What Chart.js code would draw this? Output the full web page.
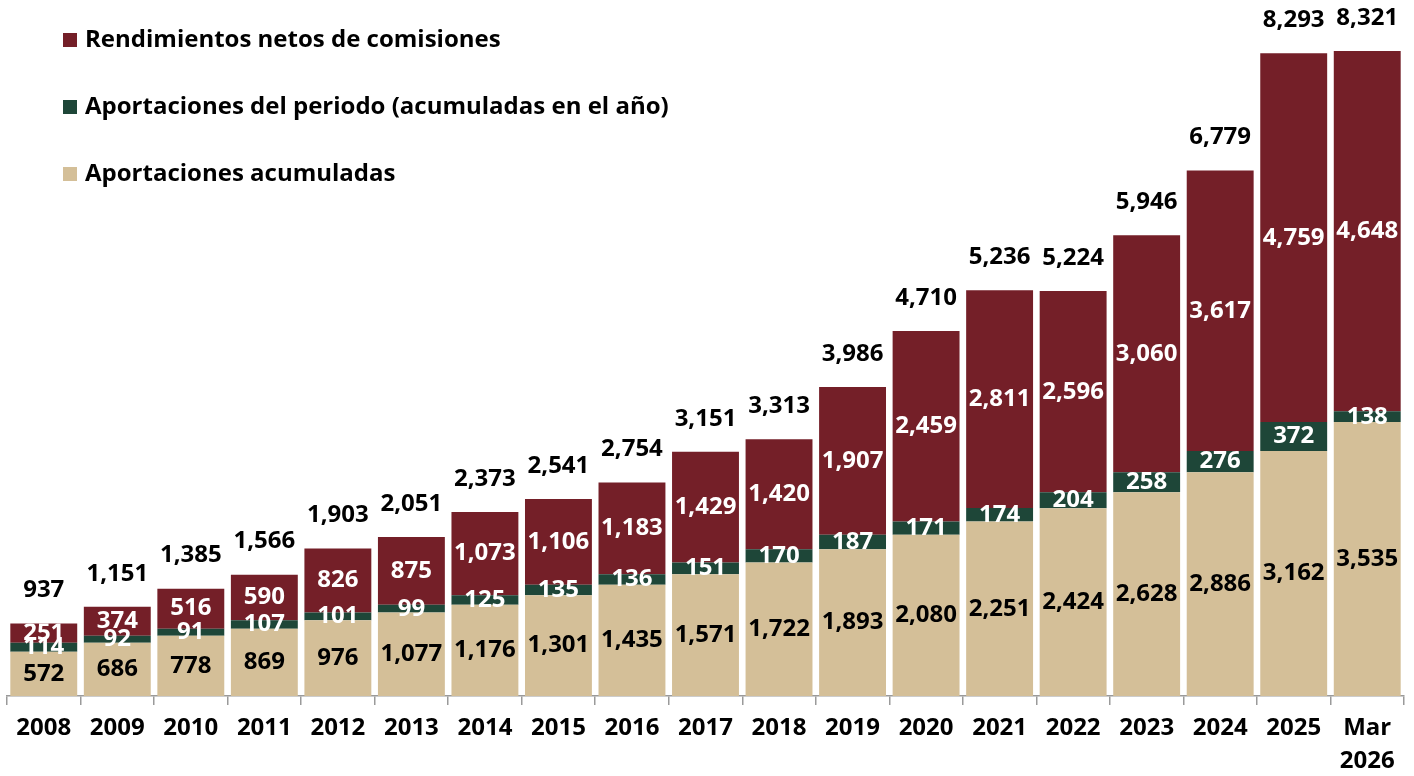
<!DOCTYPE html>
<html>
<head>
<meta charset="utf-8">
<script src="https://cdn.jsdelivr.net/npm/chart.js@4.4.1/dist/chart.umd.min.js"></script>
<style>
  body { margin: 0; background: #fff; }
  #wrap { position: relative; width: 1414px; height: 776px; }
  #legend { position: absolute; left: 63px; top: 21px; font: 700 24px "Open Sans", sans-serif; color: #000; }
  #legend div { height: 67px; display: flex; align-items: flex-start; }
  #legend span.box { width: 14px; height: 14px; margin: 12px 8px 0 0; display: inline-block; }
</style>
</head>
<body>
<div id="wrap">
  <canvas id="chart" width="1414" height="776"></canvas>
  <div id="legend">
    <div><span class="box" style="background:#741f28"></span>Rendimientos netos de comisiones</div>
    <div><span class="box" style="background:#1e4638"></span>Aportaciones del periodo (acumuladas en el año)</div>
    <div><span class="box" style="background:#d4bf98"></span>Aportaciones acumuladas</div>
  </div>
</div>
<script>
const years = ["2008","2009","2010","2011","2012","2013","2014","2015","2016","2017","2018","2019","2020","2021","2022","2023","2024","2025",["Mar","2026"]];
const acumuladas = [572,686,778,869,976,1077,1176,1301,1435,1571,1722,1893,2080,2251,2424,2628,2886,3162,3535];
const periodo = [114,92,91,107,101,99,125,135,136,151,170,187,171,174,204,258,276,372,138];
const rendimientos = [251,374,516,590,826,875,1073,1106,1183,1429,1420,1907,2459,2811,2596,3060,3617,4759,4648];
const totales = [937,1151,1385,1566,1903,2051,2373,2541,2754,3151,3313,3986,4710,5236,5224,5946,6779,8293,8321];

const fmt = v => v.toLocaleString("en-US");
const FONT = '700 24px "Open Sans"';

/* labels inside the segments + totals on top */
const segmentLabels = {
  id: "segmentLabels",
  afterDatasetsDraw(chart) {
    const ctx = chart.ctx;
    ctx.save();
    ctx.font = FONT;
    ctx.textAlign = "center";
    ctx.textBaseline = "middle";
    [0, 2, 1].forEach(di => {
      const ds = chart.data.datasets[di];
      chart.getDatasetMeta(di).data.forEach((bar, i) => {
        const p = bar.getProps(["x","y","base","width"], true);
        ctx.save();
        if (di === 2) {
          ctx.beginPath();
          ctx.rect(p.x - p.width/2, p.y, p.width, p.base - p.y);
          ctx.clip();
        }
        ctx.fillStyle = ds.labelColor;
        ctx.fillText(fmt(ds.data[i]), p.x, (p.y + p.base) / 2);
        ctx.restore();
      });
    });
    ctx.fillStyle = "#000";
    chart.getDatasetMeta(2).data.forEach((bar, i) => {
      ctx.fillText(fmt(totales[i]), bar.x, bar.y - 33);
    });
    ctx.restore();
  }
};

new Chart(document.getElementById("chart"), {
  type: "bar",
  data: {
    labels: years,
    datasets: [
      { label: "Aportaciones acumuladas", data: acumuladas, backgroundColor: "#d4bf98", labelColor: "#000" },
      { label: "Aportaciones del periodo (acumuladas en el año)", data: periodo, backgroundColor: "#1e4638", labelColor: "#fff" },
      { label: "Rendimientos netos de comisiones", data: rendimientos, backgroundColor: "#741f28", labelColor: "#fff" }
    ]
  },
  options: {
    responsive: false,
    animation: false,
    layout: { padding: { left: 7, right: 10, top: 0, bottom: -9 } },
    datasets: { bar: { categoryPercentage: 1, barPercentage: 0.91 } },
    plugins: { legend: { display: false }, tooltip: { enabled: false } },
    scales: {
      x: {
        stacked: true,
        grid: { display: true, drawOnChartArea: false, drawTicks: true, tickLength: 9, color: "#9a9a9a", lineWidth: 1.5 },
        border: { display: true, color: "#9a9a9a", width: 1.5 },
        ticks: { color: "#000", padding: 7, font: { family: "Open Sans", weight: "700", size: 24, lineHeight: "33px" } }
      },
      y: { stacked: true, display: false, min: 0, max: 8980 }
    }
  },
  plugins: [segmentLabels]
});
</script>
</body>
</html>
